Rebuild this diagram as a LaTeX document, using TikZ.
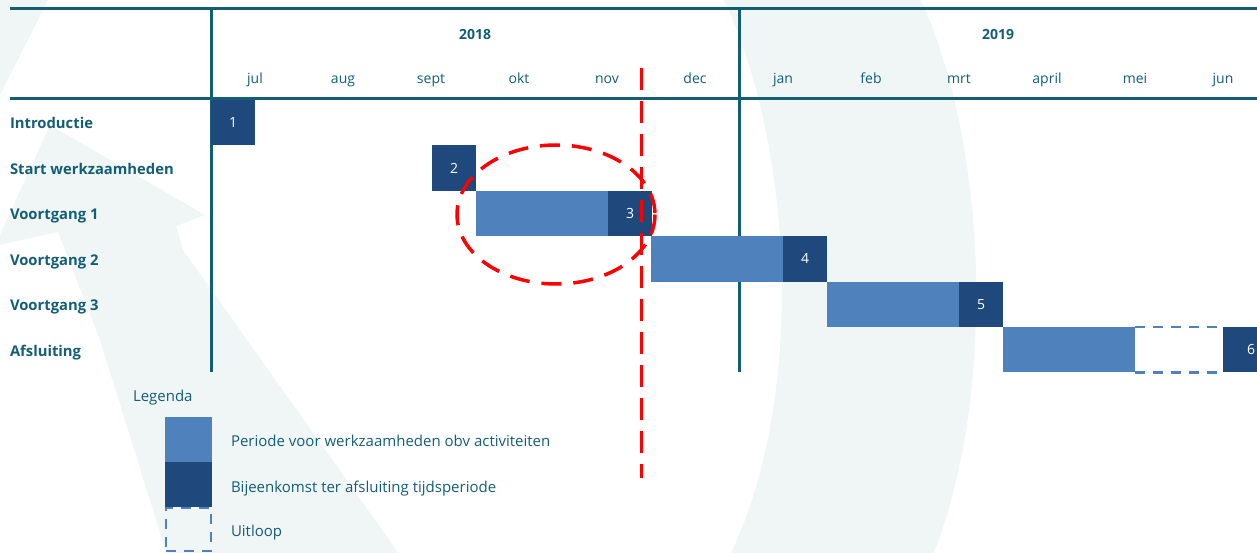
\documentclass[tikz,border=0pt]{standalone}
\usepackage{fontspec}
\setmainfont{Open Sans}
\usepackage{tikz}
\usetikzlibrary{positioning}
\definecolor{PlanTeal}{HTML}{135E75}
\definecolor{PeriodBlue}{HTML}{4F81BD}
\definecolor{MeetBlue}{HTML}{1F497D}
\definecolor{LogoShade}{HTML}{F0F5F5}

\begin{document}
\begin{tikzpicture}[x=1pt, y=-1pt,
                    every node/.style={text=PlanTeal, inner sep=0pt, outer sep=0pt,
                                       font=\fontsize{14}{16}\selectfont},
                    monthlabel/.style={anchor=base},
                    rowlabel/.style={anchor=base west, font=\fontsize{14.8}{16}\selectfont\bfseries},
                    yearlabel/.style={font=\fontsize{14}{16}\selectfont\bfseries},
                    legendtext/.style={anchor=base west, font=\fontsize{15}{17}\selectfont},
                    gridline/.style={draw=PlanTeal, line width=3pt},
                    period/.style={fill=PeriodBlue, anchor=north west,
                                   minimum height=45.4pt, minimum width=132pt},
                    meet/.style={fill=MeetBlue, text=white, anchor=north west,
                                 minimum height=45.4pt, minimum width=44pt},
                    slack/.style={draw=PeriodBlue, line width=2.5pt, dash pattern=on 10pt off 8pt},
                    today/.style={draw=red, line width=3pt, dash pattern=on 22pt off 11pt}]
\useasboundingbox (0,0) rectangle (1257,553);

% faint logo in the background
\fill[LogoShade] (723,-2) .. controls (795,150) and (805,400) .. (730,555)
  -- (933,555) .. controls (995,400) and (990,150) .. (920,-2) -- cycle;
\fill[LogoShade] (167,555) -- (100,340) -- (58,232) -- (-5,246) -- (50,125)
  -- (205,215) -- (176,226) -- (183,250) -- (400,555) -- cycle;
\fill[LogoShade] (0,0) -- (48,0) -- (0,95) -- cycle;

% header and grid
\draw[gridline] (10,9) -- (1257,9);
\draw[gridline] (10,99) -- (1257,99);
\draw[gridline] (211,9) -- (211,372);
\draw[gridline] (739,9) -- (739,372);
\node[yearlabel] (y2018) at (475,34) {2018};
\node[yearlabel] (y2019) at (998,34) {2019};
\foreach \m [count=\i from 0] in {jul,aug,sept,okt,nov,dec,jan,feb,mrt,april,mei,jun}
  \node[monthlabel] (month\i) at ({255+88*\i},84) {\m};

% activities
\foreach \lab [count=\r from 0] in {Introductie,Start werkzaamheden,Voortgang 1,
                                    Voortgang 2,Voortgang 3,Afsluiting}
  \node[rowlabel] (row\r) at (10,{129+45.4*\r}) {\lab};

\node[meet] (meet1) at (211,100) {1};
\node[meet] (meet2) at (432,145.4) {2};
\node[period] (per3) at (476,190.8) {};
\node[meet, right=0pt of per3] (meet3) {3};
\node[period] (per4) at (651,236.2) {};
\node[meet, right=0pt of per4] (meet4) {4};
\node[period] (per5) at (827,281.6) {};
\node[meet, right=0pt of per5] (meet5) {5};
\node[period] (per6) at (1003,327) {};
\node[minimum width=87pt, minimum height=45.4pt, right=0pt of per6] (slack6) {};
\draw[slack] (slack6.north west) -- (slack6.north east);
\draw[slack] (slack6.south west) -- (slack6.south east);
\node[meet, minimum width=56pt, right=1pt of slack6] (meet6) {6};

% where we are now
\coordinate (nowtop) at (641,68);
\coordinate (nowbot) at (641,478);
\draw[today] (nowtop) -- (nowbot);
\draw[today, line width=3.5pt, dash pattern=on 20pt off 12pt] (556,214.5) ellipse [x radius=99, y radius=69.5];

% legend
\node[legendtext] (legtitle) at (133,401) {Legenda};
\node[period, minimum width=47pt, minimum height=45pt] (leg1) at (165,417) {};
\node[meet, minimum width=47pt, minimum height=45pt, below=0pt of leg1] (leg2) {};
\node[slack, minimum width=45pt, minimum height=43pt, below=1pt of leg2] (leg3) {};
\node[legendtext] (legtext1) at (231,446) {Periode voor werkzaamheden obv activiteiten};
\node[legendtext] (legtext2) at (231,492) {Bijeenkomst ter afsluiting tijdsperiode};
\node[legendtext] (legtext3) at (231,536) {Uitloop};
\end{tikzpicture}
\end{document}
